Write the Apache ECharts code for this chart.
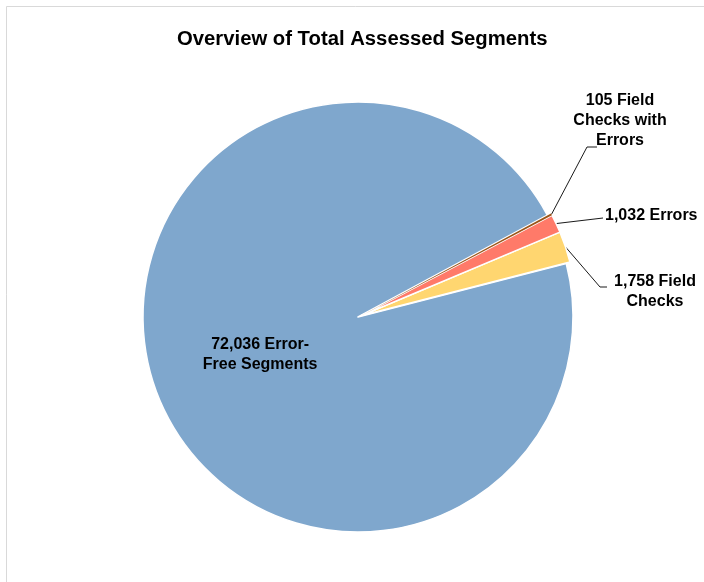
<!DOCTYPE html>
<html>
<head>
<meta charset="utf-8">
<script src="https://cdn.jsdelivr.net/npm/echarts@6/dist/echarts.min.js"></script>
<style>
  html, body { margin: 0; padding: 0; background: #ffffff; }
  #chart { width: 704px; height: 582px; }
</style>
</head>
<body>
<div id="chart"></div>
<script>
// Segment categories, in counter-clockwise drawing order
const categories = ['Field Checks', 'Errors', 'Field Checks with Errors', 'Error-Free Segments'];
// Label wording (with line breaks) for each category
const labelNames = ['Field\nChecks', 'Errors', 'Field\nChecks with\nErrors', 'Error-\nFree Segments'];
// Segment counts
const counts = [1758, 1032, 105, 72036];
// Slice colours
const sliceColors = ['#FFD670', '#FF7A69', '#9A5418', '#7FA7CD'];
// Small slices are pulled out of the pie
const pulledOut = [true, true, true, false];
// White separator width per slice (the sliver keeps none so it stays visible)
const sliceBorders = [1.5, 1.5, 0, 1.5];

// Where the outside labels sit and how their leader lines bend
const labelSpots = [
  { x: 655, y: 292, align: 'center', elbow: [600, 287], end: [607, 287] },
  { x: 605, y: 216, align: 'left', elbow: [598, 218.6], end: [603, 218] },
  { x: 620, y: 121, align: 'center', elbow: [587, 147], end: [597, 147] },
  null
];

const fontFamily = '"Liberation Sans", Arial, sans-serif';

// Pie geometry
const pieCenter = [358, 317];
const pieRadius = 215;
const startAngle = 14.4;
const pullDistance = 4;

// Direction in which the pulled-out group moves: the middle of the pulled slices
const total = counts.reduce(function (a, b) { return a + b; }, 0);
const pulledSum = counts.reduce(function (a, v, i) { return a + (pulledOut[i] ? v : 0); }, 0);
const pullAngle = (startAngle + pulledSum / total * 180) * Math.PI / 180;
const pulledCenter = [
  pieCenter[0] + Math.cos(pullAngle) * pullDistance,
  pieCenter[1] - Math.sin(pullAngle) * pullDistance
];

function valueLabel(p) {
  return p.value.toLocaleString('en-US') + ' ' + labelNames[p.dataIndex];
}

// Body of the pie: slices that stay in place
const restData = categories.map(function (name, i) {
  return {
    name: name,
    value: counts[i],
    itemStyle: pulledOut[i] ? { opacity: 0 } : { color: sliceColors[i], borderWidth: sliceBorders[i] },
    label: pulledOut[i] ? { show: false } : { show: true, offset: [5, -3] }
  };
});

// Pulled-out slices, drawn around a shifted centre
const pulledData = categories.map(function (name, i) {
  return {
    name: name,
    value: counts[i],
    itemStyle: pulledOut[i] ? { color: sliceColors[i], borderWidth: sliceBorders[i] } : { opacity: 0, borderWidth: 0 },
    label: { show: pulledOut[i] },
    labelLine: { show: pulledOut[i] }
  };
});

const sharedLabel = {
  fontFamily: fontFamily,
  fontSize: 16,
  fontWeight: 'bold',
  color: '#000000',
  lineHeight: 20,
  align: 'center',
  formatter: valueLabel
};

const chart = echarts.init(document.getElementById('chart'), null, { renderer: 'canvas' });

chart.setOption({
  animation: false,
  backgroundColor: '#ffffff',
  title: {
    text: 'Overview of Total Assessed Segments',
    left: 172,
    top: 24,
    textStyle: { fontFamily: fontFamily, fontSize: 20.3, fontWeight: 'bold', color: '#000000' }
  },
  graphic: [
    { type: 'line', shape: { x1: 6.5, y1: 6.5, x2: 704, y2: 6.5 }, style: { stroke: '#d9d9d9', lineWidth: 1 } },
    { type: 'line', shape: { x1: 6.5, y1: 6.5, x2: 6.5, y2: 582 }, style: { stroke: '#d9d9d9', lineWidth: 1 } }
  ],
  series: [
    {
      type: 'pie',
      center: pieCenter,
      radius: pieRadius,
      startAngle: startAngle,
      clockwise: false,
      silent: true,
      avoidLabelOverlap: false,
      itemStyle: { borderColor: '#ffffff' },
      label: Object.assign({ position: 'inside' }, sharedLabel),
      labelLine: { show: false },
      data: restData
    },
    {
      type: 'pie',
      center: pulledCenter,
      radius: pieRadius,
      startAngle: startAngle,
      clockwise: false,
      silent: true,
      avoidLabelOverlap: false,
      itemStyle: { borderColor: '#ffffff' },
      label: Object.assign({ position: 'outside' }, sharedLabel),
      labelLine: {
        show: true,
        smooth: false,
        lineStyle: { color: '#1a1a1a', width: 1 }
      },
      labelLayout: function (p) {
        const spot = labelSpots[p.dataIndex];
        if (!spot) { return {}; }
        const start = p.labelLinePoints ? p.labelLinePoints[0] : spot.elbow;
        return {
          x: spot.x,
          y: spot.y,
          align: spot.align,
          verticalAlign: 'middle',
          labelLinePoints: [start, spot.elbow, spot.end]
        };
      },
      data: pulledData
    }
  ]
});
</script>
</body>
</html>
